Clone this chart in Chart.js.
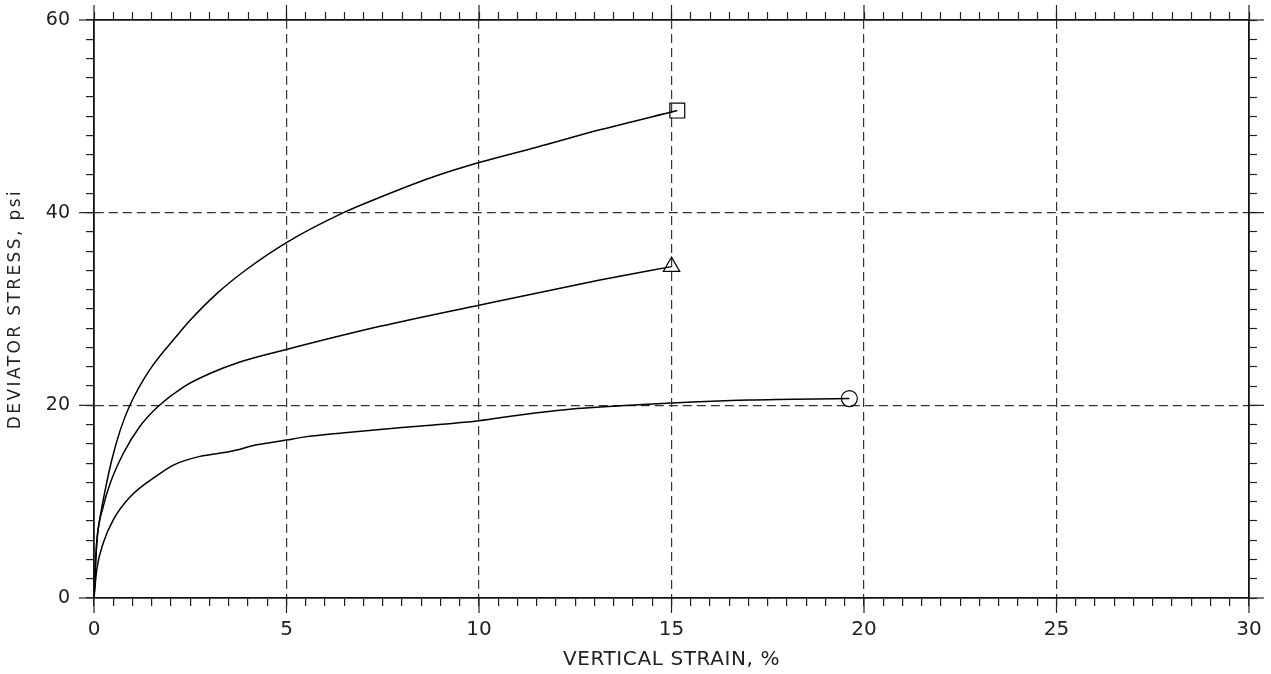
<!DOCTYPE html>
<html>
<head>
<meta charset="utf-8">
<script src="https://cdn.jsdelivr.net/npm/chart.js@4"></script>
<style>
  html, body { margin: 0; background: #fff; }
  #wrap { width: 1271px; height: 674px; }
</style>
</head>
<body>
<div id="wrap"><canvas id="grafico" width="1271" height="674"></canvas></div>
<script>
// Curva superior (quadrado)
const strainSquare = [0, 0.07, 0.16, 0.29, 0.46, 0.68, 0.92, 1.45, 2.19, 2.49, 3.19, 3.96, 5.0, 6.48, 7.43, 8.73, 10.0, 11.5, 13.14, 15.15];
const stressSquare = [0, 5.7, 8.4, 11.2, 14.3, 17.4, 19.9, 23.7, 27.4, 28.8, 31.6, 34.1, 36.9, 40.0, 41.6, 43.6, 45.2, 46.8, 48.6, 50.6];

// Curva do meio (triangulo)
const strainTriangle = [0, 0.07, 0.24, 0.42, 0.76, 1.19, 1.67, 2.32, 3.01, 3.79, 5.0, 7.43, 10.0, 13.14, 15.0];
const stressTriangle = [0, 5.7, 9.5, 11.9, 15.0, 17.8, 19.9, 21.9, 23.3, 24.5, 25.8, 28.2, 30.4, 33.0, 34.4];

// Curva inferior (circulo)
const strainCircle = [0, 0.07, 0.24, 0.5, 0.94, 1.71, 2.06, 2.75, 3.53, 4.23, 5.0, 5.44, 6.65, 7.43, 8.5, 10.0, 11.06, 12.36, 13.66, 15.0, 17.0, 19.62];
const stressCircle = [0, 2.9, 5.7, 8.1, 10.5, 12.9, 13.8, 14.7, 15.2, 15.9, 16.4, 16.7, 17.2, 17.5, 17.85, 18.4, 19.0, 19.6, 19.95, 20.25, 20.55, 20.7];

// Rotulos dos eixos
const xLabels = [0, 5, 10, 15, 20, 25, 30];
const yLabels = [0, 20, 40, 60];
const xTitle = 'VERTICAL STRAIN, %';
const yTitle = 'DEVIATOR STRESS, psi';

const fonte = "'DejaVu Sans', 'Liberation Sans', sans-serif";
const tinta = '#222';

const pontos = (xs, ys) => xs.map((x, i) => ({ x, y: ys[i] }));
const ehRotulo = (lista, v) => lista.some(l => Math.abs(l - v) < 1e-6);

const serie = (xs, ys, estilo, raio) => ({
    data: pontos(xs, ys),
    borderColor: '#000',
    borderWidth: 1.5,
    cubicInterpolationMode: 'monotone',
    pointStyle: estilo,
    pointRadius: c => c.dataIndex === xs.length - 1 ? raio : 0,
    pointBorderColor: '#000',
    pointBackgroundColor: 'rgba(0,0,0,0)',
    pointBorderWidth: 1.2
});

// grade tracejada so nos valores maiores internos
const corGrade = (lista, min, max) => c => {
    const v = c.tick ? c.tick.value : null;
    if (v === null || v <= min || v >= max) return 'rgba(0,0,0,0)';
    return ehRotulo(lista, v) ? '#333' : 'rgba(0,0,0,0)';
};

const eixoEspelho = (pos, passo, min, max, tamanho) => ({
    type: 'linear', position: pos, min, max,
    ticks: { display: false, stepSize: passo, autoSkip: false },
    grid: { drawOnChartArea: false, tickLength: 8, tickColor: tinta, tickWidth: 1.2 },
    border: { color: '#111', width: 1.8 },
    afterFit: s => {
        if (pos === 'top') s.height = tamanho; else s.width = tamanho;
        s.paddingTop = s.paddingBottom = s.paddingLeft = s.paddingRight = 0;
    }
});

// Marcas maiores mais longas e titulos com espacamento
const marcasMaiores = {
    id: 'marcasMaiores',
    afterDraw(chart) {
        const { ctx, chartArea: a, scales } = chart;
        const linha = (x1, y1, x2, y2) => { ctx.beginPath(); ctx.moveTo(x1, y1); ctx.lineTo(x2, y2); ctx.stroke(); };
        ctx.save();
        ctx.strokeStyle = tinta;
        ctx.lineWidth = 1.2;
        xLabels.forEach(v => {
            const px = scales.x.getPixelForValue(v);
            linha(px, a.bottom, px, a.bottom + 15);
            linha(px, a.top, px, a.top - 15);
        });
        yLabels.forEach(v => {
            const py = scales.y.getPixelForValue(v);
            linha(a.left - 15, py, a.left, py);
            linha(a.right, py, a.right + 15, py);
        });

        ctx.fillStyle = tinta;
        ctx.textAlign = 'center';
        ctx.textBaseline = 'middle';
        ctx.font = '20px ' + fonte;
        ctx.letterSpacing = '0.6px';
        ctx.fillText(xTitle, (a.left + a.right) / 2, 660);

        ctx.font = '17px ' + fonte;
        ctx.letterSpacing = '2.4px';
        ctx.translate(16, (a.top + a.bottom) / 2);
        ctx.rotate(-Math.PI / 2);
        ctx.fillText(yTitle, 0, 0);
        ctx.restore();
    }
};

new Chart(document.getElementById('grafico'), {
    type: 'line',
    data: {
        datasets: [
            serie(strainSquare, stressSquare, 'rect', 10.5),
            serie(strainTriangle, stressTriangle, 'triangle', 9.5),
            serie(strainCircle, stressCircle, 'circle', 8)
        ]
    },
    options: {
        responsive: false,
        animation: false,
        layout: { padding: 0 },
        plugins: { legend: { display: false }, tooltip: { enabled: false } },
        scales: {
            x: {
                type: 'linear', position: 'bottom', min: 0, max: 30,
                ticks: {
                    stepSize: 0.5, autoSkip: false, maxRotation: 0, padding: 12,
                    color: tinta, font: { family: fonte, size: 20 },
                    callback: v => ehRotulo(xLabels, v) ? String(Math.round(v)) : ''
                },
                grid: { color: corGrade(xLabels, 0, 30), lineWidth: 1.2, tickLength: 8, tickColor: tinta, tickWidth: 1.2 },
                border: { color: '#111', width: 1.8, dash: [9, 5] },
                afterFit: s => { s.height = 76; s.paddingLeft = 0; s.paddingRight = 0; }
            },
            x2: eixoEspelho('top', 0.5, 0, 30, 20),
            y: {
                type: 'linear', position: 'left', min: 0, max: 60,
                ticks: {
                    stepSize: 2, autoSkip: false, padding: 16,
                    color: tinta, font: { family: fonte, size: 19 },
                    callback: v => ehRotulo(yLabels, v) ? String(Math.round(v)) : ''
                },
                grid: { color: corGrade(yLabels, 0, 60), lineWidth: 1.2, tickLength: 8, tickColor: tinta, tickWidth: 1.2 },
                border: { color: '#111', width: 1.8, dash: [9, 5] },
                afterFit: s => { s.width = 94; s.paddingTop = 0; s.paddingBottom = 0; }
            },
            y2: eixoEspelho('right', 2, 0, 60, 22)
        }
    },
    plugins: [marcasMaiores]
});
</script>
</body>
</html>
